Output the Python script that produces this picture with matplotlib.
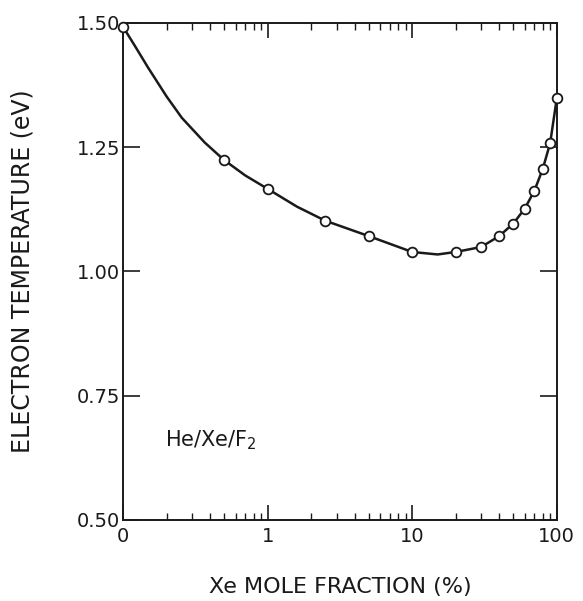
import numpy as np
import matplotlib
matplotlib.use('Agg')
import matplotlib.pyplot as plt
from matplotlib.ticker import FixedLocator, LogLocator, NullFormatter

# Xe mole fraction (%) -- "0" is plotted at the left edge (0.1 on the log axis)
xe_frac = [0.1, 0.5, 1, 2.5, 5, 10, 20, 30, 40, 50, 60, 70, 80, 90, 100]
te_ev = [1.492, 1.224, 1.166, 1.102, 1.071, 1.039, 1.039, 1.049, 1.071,
         1.096, 1.126, 1.162, 1.206, 1.258, 1.348]

curve_x = [0.1, 0.12, 0.149, 0.2, 0.255, 0.368, 0.5, 0.7, 1, 1.6, 2.5, 5, 10,
           15, 20, 30, 40, 50, 60, 70, 80, 90, 100]
curve_y = [1.492, 1.455, 1.41, 1.352, 1.309, 1.259, 1.224, 1.193, 1.166, 1.13,
           1.102, 1.071, 1.039, 1.034, 1.039, 1.049, 1.071, 1.096, 1.126,
           1.162, 1.206, 1.258, 1.348]

x_ticks = [0.1, 1, 10, 100]
x_ticklabels = ['0', '1', '10', '100']
y_ticks = [0.50, 0.75, 1.00, 1.25, 1.50]
y_ticklabels = ['0.50', '0.75', '1.00', '1.25', '1.50']

plt.rcParams['font.family'] = ['DejaVu Sans']
ink = '#1a1a1a'

fig = plt.figure(figsize=(5.83, 6.01), dpi=100)
ax = fig.add_axes([0.211, 0.135, 0.744, 0.827])

ax.plot(curve_x, curve_y, color=ink, lw=1.8, zorder=2)
ax.plot(xe_frac, te_ev, 'o', ms=7, mfc='white', mec=ink, mew=1.3, zorder=3,
        clip_on=False)

ax.set_xscale('log')
ax.set_xlim(0.1, 100)
ax.set_ylim(0.5, 1.5)

ax.xaxis.set_major_locator(FixedLocator(x_ticks))
ax.set_xticklabels(x_ticklabels)
ax.xaxis.set_minor_locator(LogLocator(base=10, subs=np.arange(2, 10)))
ax.xaxis.set_minor_formatter(NullFormatter())
ax.set_yticks(y_ticks)
ax.set_yticklabels(y_ticklabels)

ax.tick_params(which='major', direction='in', top=True, right=True,
               length=11, width=1.2, color=ink, labelsize=14, labelcolor=ink, pad=5)
ax.tick_params(which='minor', direction='in', top=True, right=True,
               length=5, width=1.0, color=ink)
ax.tick_params(axis='y', which='major', length=12, pad=2)
for s in ax.spines.values():
    s.set_linewidth(1.4)
    s.set_color(ink)

ax.set_ylabel('ELECTRON TEMPERATURE (eV)', fontsize=17, color=ink)
ax.yaxis.set_label_coords(-0.205, 0.5)
ax.set_xlabel('Xe MOLE FRACTION (%)', fontsize=16, color=ink)
ax.xaxis.set_label_coords(0.5, -0.115)
ax.text(0.097, 0.161, 'He/Xe/F$_2$', transform=ax.transAxes, fontsize=15,
        color=ink, va='center', ha='left')

fig.savefig('out.png', dpi=100, facecolor='white')
